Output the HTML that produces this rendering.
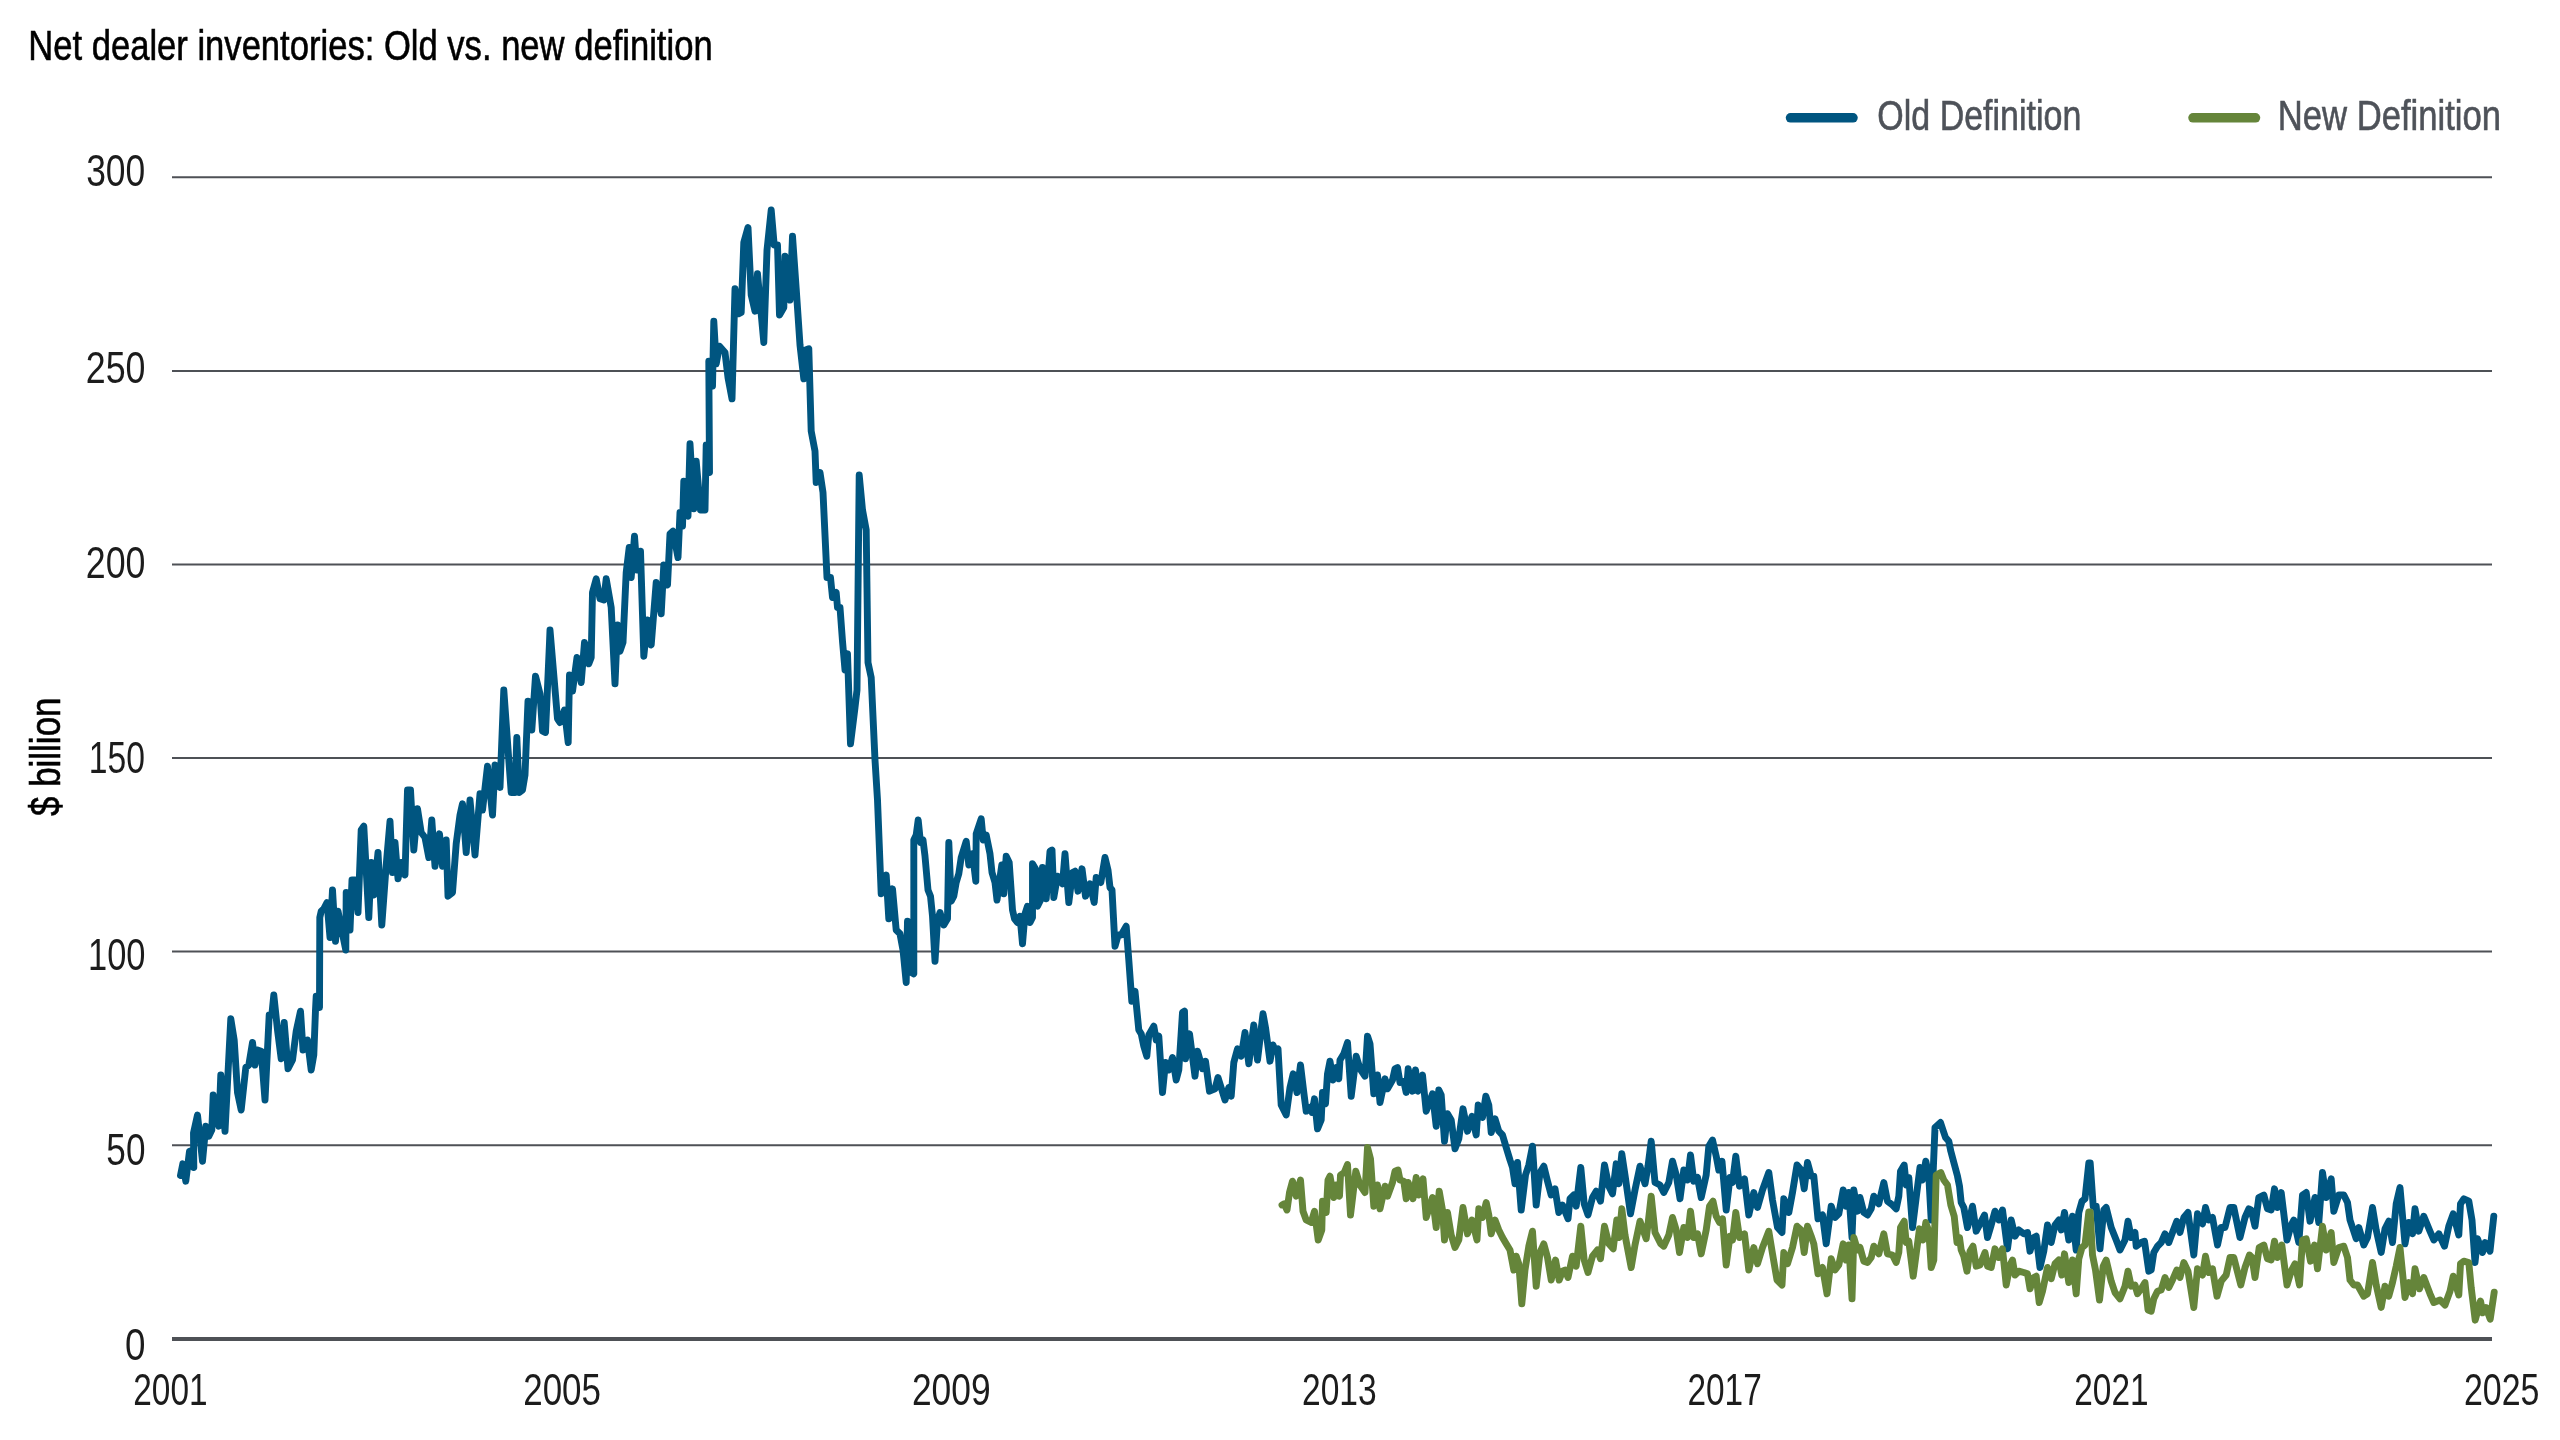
<!DOCTYPE html>
<html lang="en"><head><meta charset="utf-8"><title>Net dealer inventories: Old vs. new definition</title>
<style>html,body{margin:0;padding:0;background:#fff}body{width:2560px;height:1440px;overflow:hidden}svg{display:block}text{font-family:"Liberation Sans",sans-serif}svg{will-change:transform}</style>
</head><body>
<svg width="2560" height="1440" viewBox="0 0 2560 1440">
<rect width="2560" height="1440" fill="#ffffff"/>
<text x="28.25" y="60.0" font-size="43" fill="#000" stroke="#000" stroke-width="0.6" textLength="684.38" lengthAdjust="spacingAndGlyphs">Net dealer inventories: Old vs. new definition</text>
<line x1="172" x2="2492" y1="1145.2" y2="1145.2" stroke="#4e5156" stroke-width="2"/>
<line x1="172" x2="2492" y1="951.6" y2="951.6" stroke="#4e5156" stroke-width="2"/>
<line x1="172" x2="2492" y1="758.0" y2="758.0" stroke="#4e5156" stroke-width="2"/>
<line x1="172" x2="2492" y1="564.5" y2="564.5" stroke="#4e5156" stroke-width="2"/>
<line x1="172" x2="2492" y1="370.9" y2="370.9" stroke="#4e5156" stroke-width="2"/>
<line x1="172" x2="2492" y1="177.3" y2="177.3" stroke="#4e5156" stroke-width="2"/>
<line x1="172" x2="2492" y1="1339" y2="1339" stroke="#4e5156" stroke-width="4"/>
<text x="86.18" y="186.3" font-size="45" fill="#1c1c1c" textLength="59.10" lengthAdjust="spacingAndGlyphs">300</text>
<text x="85.75" y="382.7" font-size="45" fill="#1c1c1c" textLength="59.72" lengthAdjust="spacingAndGlyphs">250</text>
<text x="85.75" y="577.9" font-size="45" fill="#1c1c1c" textLength="59.72" lengthAdjust="spacingAndGlyphs">200</text>
<text x="88.82" y="773.0" font-size="45" fill="#1c1c1c" textLength="56.17" lengthAdjust="spacingAndGlyphs">150</text>
<text x="87.99" y="969.6" font-size="45" fill="#1c1c1c" textLength="57.52" lengthAdjust="spacingAndGlyphs">100</text>
<text x="106.37" y="1164.8" font-size="45" fill="#1c1c1c" textLength="39.06" lengthAdjust="spacingAndGlyphs">50</text>
<text x="124.95" y="1359.8" font-size="45" fill="#1c1c1c" textLength="20.45" lengthAdjust="spacingAndGlyphs">0</text>
<text x="133.32" y="1404.6" font-size="44.5" fill="#1c1c1c" textLength="74.22" lengthAdjust="spacingAndGlyphs">2001</text>
<text x="523.24" y="1404.6" font-size="44.5" fill="#1c1c1c" textLength="77.69" lengthAdjust="spacingAndGlyphs">2005</text>
<text x="911.90" y="1404.6" font-size="44.5" fill="#1c1c1c" textLength="78.68" lengthAdjust="spacingAndGlyphs">2009</text>
<text x="1302.00" y="1404.6" font-size="44.5" fill="#1c1c1c" textLength="74.68" lengthAdjust="spacingAndGlyphs">2013</text>
<text x="1687.53" y="1404.6" font-size="44.5" fill="#1c1c1c" textLength="74.21" lengthAdjust="spacingAndGlyphs">2017</text>
<text x="2074.32" y="1404.6" font-size="44.5" fill="#1c1c1c" textLength="74.22" lengthAdjust="spacingAndGlyphs">2021</text>
<text x="2463.91" y="1404.6" font-size="44.5" fill="#1c1c1c" textLength="75.52" lengthAdjust="spacingAndGlyphs">2025</text>
<text x="1877.33" y="130.0" font-size="43" fill="#4e5259" stroke="#4e5259" stroke-width="0.6" textLength="203.98" lengthAdjust="spacingAndGlyphs">Old Definition</text>
<text x="2277.78" y="130.0" font-size="43" fill="#4e5259" stroke="#4e5259" stroke-width="0.6" textLength="223.25" lengthAdjust="spacingAndGlyphs">New Definition</text>
<text transform="translate(60,816) rotate(-90)" font-size="43" fill="#000" stroke="#000" stroke-width="0.6" textLength="118.5" lengthAdjust="spacingAndGlyphs">$ billion</text>
<line x1="1790.5" x2="1853" y1="117.8" y2="117.8" stroke="#005580" stroke-width="9.5" stroke-linecap="round"/>
<line x1="2193" x2="2255.5" y1="117.8" y2="117.8" stroke="#65853a" stroke-width="9.5" stroke-linecap="round"/>
<path d="M180.5,1175.5 L182.8,1163.8 L185.8,1181.2 L189.5,1151.2 L191.8,1150.5 L193.8,1167.5 L193.5,1133.0 L197.5,1115.0 L202.5,1161.2 L205.8,1126.2 L208.8,1136.2 L211.8,1130.0 L213.2,1095.0 L218.8,1126.2 L220.8,1075.0 L225.0,1131.2 L230.8,1018.8 L234.2,1040.0 L237.5,1092.5 L241.2,1110.0 L245.8,1067.5 L248.8,1065.0 L252.5,1042.5 L255.0,1065.0 L257.5,1050.0 L261.2,1051.2 L265.0,1100.0 L269.2,1015.0 L271.8,1015.0 L273.8,995.0 L277.5,1030.0 L281.2,1058.8 L284.2,1022.5 L288.0,1068.8 L292.5,1060.0 L296.2,1031.2 L300.5,1011.2 L303.0,1050.0 L307.5,1040.0 L311.2,1070.0 L313.8,1055.0 L315.5,1010.0 L316.2,996.2 L319.5,1007.5 L319.8,917.5 L321.2,911.2 L323.8,908.8 L327.0,902.5 L330.0,937.5 L332.5,890.0 L335.5,941.2 L338.0,911.2 L341.2,927.5 L345.8,950.0 L346.2,892.5 L350.0,930.0 L352.0,880.0 L355.0,880.0 L358.0,912.5 L361.2,830.0 L363.8,826.2 L368.8,917.5 L371.2,862.5 L373.8,895.0 L378.0,852.5 L381.8,925.0 L386.2,865.0 L390.0,821.2 L392.5,872.5 L395.0,842.5 L398.0,878.8 L401.2,862.5 L405.0,875.0 L407.5,790.0 L410.5,790.0 L413.8,850.0 L417.5,808.8 L421.2,832.5 L425.0,837.5 L428.8,857.5 L431.8,820.0 L435.0,866.2 L439.5,833.8 L442.5,866.2 L446.2,840.0 L448.0,896.2 L452.5,892.5 L456.2,843.8 L460.0,815.0 L462.5,803.8 L466.2,852.5 L470.0,800.0 L475.0,855.0 L480.0,793.8 L482.5,810.0 L487.5,766.2 L492.5,815.0 L495.0,765.0 L500.0,787.5 L503.8,690.0 L508.8,760.0 L511.2,792.5 L515.0,792.5 L516.8,737.5 L519.2,792.5 L522.5,790.0 L525.0,775.0 L528.0,701.2 L531.8,730.0 L535.5,676.2 L540.0,693.8 L542.5,731.2 L545.5,732.5 L549.5,642.5 L550.0,630.0 L553.8,675.0 L557.5,718.8 L560.0,722.5 L564.5,710.0 L568.2,742.5 L569.5,675.0 L572.5,691.2 L577.0,657.5 L581.2,682.5 L584.5,642.5 L588.8,663.8 L591.2,657.5 L592.5,592.5 L596.2,578.8 L600.0,598.8 L603.8,600.0 L606.2,578.8 L611.2,607.5 L615.0,683.8 L617.5,625.0 L620.0,651.2 L623.0,642.5 L626.2,572.5 L629.2,547.5 L631.2,577.5 L634.5,536.2 L637.0,570.0 L640.5,551.2 L643.8,656.2 L647.5,620.0 L651.2,645.0 L656.2,582.5 L661.2,613.8 L663.8,565.0 L667.5,585.0 L670.0,533.8 L673.0,531.2 L678.0,557.5 L680.0,512.5 L682.5,526.2 L683.8,481.2 L688.0,516.2 L690.0,443.8 L693.8,508.8 L696.2,461.2 L700.5,510.0 L705.0,510.0 L706.2,445.0 L709.5,472.5 L708.8,361.2 L712.5,386.2 L713.8,321.2 L716.2,363.8 L719.5,346.2 L725.0,352.5 L728.0,377.5 L732.0,398.8 L735.0,288.8 L738.8,313.8 L741.2,312.5 L743.8,242.5 L748.0,227.5 L751.2,295.0 L755.0,311.2 L757.5,273.8 L763.8,342.5 L767.0,250.0 L771.2,210.0 L774.2,245.0 L777.5,245.0 L779.5,315.0 L783.8,307.5 L785.0,256.2 L790.0,300.0 L792.5,236.2 L796.2,288.8 L800.0,345.0 L803.8,378.8 L805.5,350.0 L808.8,348.8 L811.2,431.2 L815.0,451.2 L816.2,482.5 L820.0,472.5 L823.0,492.5 L827.0,577.5 L830.5,577.5 L832.5,597.5 L836.2,592.5 L837.5,607.5 L840.0,607.5 L842.5,641.2 L845.0,670.0 L847.5,653.8 L850.5,743.8 L855.0,707.5 L857.0,690.0 L859.2,475.0 L862.5,510.0 L866.2,530.0 L868.0,662.5 L871.2,677.5 L875.0,760.0 L877.5,800.0 L881.2,893.8 L886.2,875.0 L888.8,918.8 L892.5,888.8 L896.2,930.0 L900.0,933.8 L903.0,950.0 L906.2,982.5 L907.5,921.2 L911.2,972.5 L913.8,973.8 L913.8,840.0 L916.2,835.0 L918.2,820.0 L920.5,842.5 L923.0,840.0 L925.0,856.2 L928.0,890.0 L930.5,896.2 L932.5,916.2 L935.0,961.2 L937.5,920.0 L940.0,912.5 L943.8,925.0 L947.5,918.8 L948.8,842.5 L951.2,901.2 L953.8,896.2 L956.2,882.5 L958.8,873.8 L961.2,857.5 L966.2,841.2 L968.8,865.0 L972.5,853.8 L975.8,881.2 L976.2,833.8 L981.2,818.8 L983.2,840.0 L986.2,835.0 L990.0,853.8 L992.0,872.5 L995.0,882.5 L997.0,900.0 L1000.0,877.5 L1001.8,865.0 L1003.8,893.8 L1006.2,856.2 L1009.2,862.5 L1012.5,910.0 L1014.5,918.8 L1017.5,922.5 L1020.0,916.2 L1022.5,943.8 L1025.0,913.8 L1027.5,906.2 L1030.0,922.5 L1032.5,917.5 L1032.5,863.8 L1036.2,870.0 L1037.5,906.2 L1041.2,898.8 L1042.5,867.5 L1046.2,898.8 L1050.0,851.2 L1052.0,850.0 L1053.8,897.5 L1057.5,876.2 L1062.5,883.8 L1065.0,853.8 L1068.8,902.5 L1072.5,872.5 L1075.0,871.2 L1078.0,891.2 L1082.0,868.8 L1085.5,896.2 L1090.0,883.8 L1094.2,902.5 L1096.2,877.5 L1100.8,882.5 L1105.0,857.5 L1108.0,870.0 L1110.0,887.5 L1112.0,890.0 L1115.0,946.2 L1118.2,935.0 L1121.2,935.0 L1126.2,926.2 L1128.8,960.0 L1131.8,1001.2 L1135.0,991.2 L1138.8,1030.0 L1141.2,1033.8 L1143.8,1046.2 L1146.8,1056.2 L1148.8,1035.0 L1153.8,1026.2 L1156.2,1040.0 L1158.8,1036.2 L1162.5,1092.5 L1165.5,1062.5 L1168.8,1070.0 L1172.5,1057.5 L1176.2,1080.0 L1178.8,1070.0 L1182.5,1012.5 L1184.5,1011.2 L1185.5,1058.8 L1189.5,1033.8 L1195.0,1076.2 L1197.5,1051.2 L1202.5,1068.8 L1205.5,1061.2 L1209.5,1091.2 L1215.0,1088.8 L1218.0,1077.5 L1225.0,1100.0 L1228.8,1087.5 L1231.2,1096.2 L1233.8,1062.5 L1237.5,1048.8 L1241.2,1056.2 L1245.0,1032.5 L1248.8,1063.8 L1253.8,1025.0 L1257.5,1060.0 L1263.0,1013.8 L1265.5,1027.5 L1270.0,1061.2 L1273.0,1045.0 L1275.5,1051.2 L1278.0,1048.8 L1281.2,1105.0 L1286.2,1115.0 L1290.0,1087.5 L1293.2,1073.8 L1297.0,1092.5 L1300.5,1065.0 L1303.8,1092.5 L1306.2,1111.2 L1310.0,1107.5 L1312.0,1112.5 L1314.5,1098.8 L1317.5,1128.8 L1321.2,1120.0 L1322.5,1092.5 L1325.5,1103.8 L1327.5,1073.8 L1330.0,1061.2 L1333.0,1080.0 L1336.2,1067.5 L1338.8,1078.8 L1340.0,1060.0 L1343.8,1053.8 L1347.5,1042.5 L1351.2,1096.2 L1356.2,1056.2 L1360.0,1068.8 L1365.0,1076.2 L1367.5,1036.2 L1370.0,1043.8 L1373.8,1093.8 L1377.5,1075.0 L1380.0,1102.5 L1385.0,1078.8 L1387.5,1088.8 L1392.5,1080.0 L1395.0,1068.8 L1397.5,1067.5 L1400.0,1082.5 L1403.8,1081.2 L1406.2,1092.5 L1408.2,1068.8 L1412.5,1091.2 L1415.5,1070.0 L1418.0,1091.2 L1422.5,1075.0 L1426.2,1111.2 L1432.5,1093.8 L1436.2,1126.2 L1438.8,1090.0 L1441.2,1095.0 L1444.5,1141.2 L1447.5,1113.8 L1451.2,1120.0 L1455.0,1148.8 L1458.8,1138.8 L1463.0,1108.8 L1467.5,1131.2 L1472.0,1116.2 L1476.2,1135.0 L1478.2,1105.0 L1482.5,1117.5 L1485.8,1096.2 L1488.8,1105.0 L1491.2,1132.5 L1495.0,1118.8 L1498.8,1131.2 L1502.5,1135.0 L1506.2,1147.5 L1510.0,1160.0 L1512.5,1167.5 L1515.0,1183.8 L1517.5,1162.5 L1521.2,1210.0 L1525.5,1175.0 L1528.8,1165.0 L1532.5,1146.2 L1536.2,1205.0 L1540.0,1172.5 L1543.8,1166.2 L1547.5,1181.2 L1551.2,1195.0 L1555.0,1188.8 L1558.8,1212.5 L1562.5,1205.0 L1568.0,1218.8 L1570.0,1198.8 L1573.8,1195.0 L1576.2,1206.2 L1580.8,1167.5 L1584.2,1203.8 L1588.0,1215.0 L1592.5,1197.5 L1596.2,1191.2 L1600.5,1201.2 L1604.5,1165.0 L1608.8,1186.2 L1612.5,1193.8 L1616.2,1163.8 L1618.8,1183.8 L1621.8,1153.8 L1625.0,1175.0 L1630.5,1213.8 L1635.0,1190.0 L1640.0,1166.2 L1645.0,1183.8 L1648.0,1166.2 L1651.2,1141.2 L1655.0,1182.5 L1660.0,1185.0 L1663.8,1192.5 L1668.8,1182.5 L1672.5,1161.2 L1676.2,1175.0 L1680.0,1198.8 L1683.8,1170.0 L1687.5,1180.0 L1690.5,1155.0 L1693.8,1181.2 L1697.5,1177.5 L1701.2,1197.5 L1706.2,1175.0 L1708.8,1146.2 L1712.5,1140.0 L1716.2,1156.2 L1718.8,1170.0 L1722.0,1161.2 L1726.2,1210.0 L1730.0,1177.5 L1732.5,1182.5 L1735.8,1156.2 L1739.5,1186.2 L1744.5,1178.8 L1748.8,1215.0 L1753.8,1192.5 L1757.5,1207.5 L1762.5,1190.0 L1768.8,1172.5 L1772.5,1200.0 L1777.5,1227.5 L1782.0,1232.5 L1783.8,1198.8 L1788.8,1212.5 L1792.5,1192.5 L1797.0,1165.0 L1801.2,1170.0 L1804.2,1188.8 L1807.5,1162.5 L1811.2,1176.2 L1813.8,1176.2 L1818.0,1218.8 L1822.5,1215.0 L1826.2,1243.8 L1831.2,1206.2 L1835.0,1217.5 L1838.8,1213.8 L1843.2,1190.0 L1846.2,1206.2 L1848.8,1192.5 L1852.0,1237.5 L1853.8,1190.0 L1857.5,1211.2 L1860.0,1197.5 L1863.8,1212.5 L1867.5,1215.0 L1871.2,1208.8 L1873.8,1196.2 L1878.8,1203.8 L1883.8,1182.5 L1887.5,1201.2 L1892.5,1205.0 L1896.2,1208.8 L1898.8,1196.2 L1900.5,1171.2 L1904.2,1165.0 L1906.2,1185.0 L1908.8,1177.5 L1912.5,1227.5 L1916.2,1197.5 L1920.0,1167.5 L1922.5,1180.0 L1925.8,1161.2 L1928.8,1176.2 L1931.2,1220.0 L1935.0,1127.5 L1940.5,1122.5 L1943.8,1132.5 L1945.5,1137.5 L1948.8,1141.2 L1950.8,1151.2 L1954.2,1163.8 L1957.5,1176.2 L1959.5,1186.2 L1961.2,1202.5 L1963.8,1207.5 L1967.5,1227.5 L1970.0,1217.5 L1972.5,1206.2 L1976.2,1231.2 L1980.0,1223.8 L1984.5,1215.0 L1987.5,1237.5 L1991.2,1225.0 L1995.0,1211.2 L1998.8,1220.0 L2002.5,1210.0 L2007.5,1248.8 L2011.2,1220.0 L2015.0,1236.2 L2018.8,1230.0 L2023.8,1233.8 L2027.5,1232.5 L2030.0,1251.2 L2033.8,1237.5 L2036.2,1236.2 L2040.0,1267.5 L2043.8,1251.2 L2047.5,1225.0 L2051.2,1242.5 L2055.0,1225.0 L2058.8,1220.0 L2061.2,1230.0 L2064.5,1212.5 L2068.8,1240.0 L2072.5,1216.2 L2076.2,1250.0 L2078.8,1212.5 L2082.0,1201.2 L2085.0,1198.8 L2088.8,1163.0 L2090.2,1163.0 L2093.2,1206.2 L2096.2,1206.2 L2100.0,1248.8 L2103.8,1210.0 L2106.2,1207.5 L2111.2,1227.5 L2116.2,1240.0 L2120.0,1250.0 L2125.0,1240.0 L2128.0,1221.2 L2131.2,1237.5 L2135.0,1232.5 L2136.2,1246.2 L2141.2,1242.5 L2144.5,1241.2 L2148.8,1271.2 L2151.2,1270.0 L2153.8,1252.5 L2157.5,1246.2 L2161.2,1242.5 L2165.0,1233.8 L2168.8,1242.5 L2172.5,1232.5 L2176.8,1221.2 L2180.0,1232.5 L2183.8,1217.5 L2188.0,1212.5 L2193.8,1255.0 L2197.5,1213.8 L2202.5,1223.8 L2205.5,1207.5 L2208.8,1220.0 L2212.5,1217.5 L2217.5,1245.0 L2221.2,1227.5 L2225.0,1227.5 L2230.0,1207.5 L2233.8,1207.5 L2240.0,1237.5 L2245.0,1217.5 L2248.8,1208.8 L2251.2,1210.0 L2255.0,1226.2 L2258.8,1197.5 L2263.8,1195.0 L2267.5,1208.8 L2271.2,1210.0 L2274.5,1188.8 L2277.5,1207.5 L2281.2,1192.5 L2287.0,1240.0 L2291.2,1225.0 L2293.8,1220.0 L2298.8,1242.5 L2302.5,1195.0 L2306.2,1192.5 L2310.0,1221.2 L2315.0,1197.5 L2318.8,1222.5 L2322.5,1172.5 L2326.2,1197.5 L2331.2,1178.8 L2333.8,1211.2 L2338.8,1195.0 L2343.8,1195.0 L2347.5,1202.5 L2350.0,1220.0 L2352.5,1227.5 L2356.2,1238.8 L2358.8,1227.5 L2363.8,1245.0 L2367.5,1237.5 L2372.5,1207.5 L2376.2,1230.0 L2381.2,1252.5 L2385.0,1228.8 L2388.8,1221.2 L2392.5,1242.5 L2396.2,1203.8 L2400.0,1187.5 L2405.0,1243.8 L2408.8,1222.5 L2412.5,1233.8 L2415.0,1208.8 L2418.8,1231.2 L2423.8,1216.2 L2430.0,1231.2 L2433.8,1240.0 L2438.8,1233.8 L2444.5,1246.2 L2448.8,1226.2 L2453.2,1213.8 L2458.8,1235.0 L2460.5,1203.8 L2463.8,1198.8 L2468.8,1201.2 L2472.0,1220.0 L2475.0,1262.5 L2477.5,1238.8 L2482.5,1252.5 L2485.0,1242.5 L2490.0,1251.2 L2493.8,1216.2" fill="none" stroke="#005580" stroke-width="6.9" stroke-linejoin="round" stroke-linecap="round"/>
<path d="M1282.0,1205.0 L1284.2,1203.8 L1287.0,1210.0 L1289.5,1192.5 L1292.5,1181.2 L1296.2,1196.2 L1300.5,1180.0 L1303.0,1211.2 L1306.2,1220.0 L1311.2,1222.5 L1314.5,1211.2 L1318.2,1240.0 L1321.8,1230.0 L1322.5,1201.2 L1326.2,1212.5 L1328.0,1180.0 L1330.0,1176.2 L1333.8,1197.5 L1336.2,1185.0 L1339.5,1196.2 L1340.5,1175.0 L1344.2,1172.5 L1347.5,1164.5 L1350.5,1215.0 L1355.8,1171.2 L1360.0,1185.0 L1365.0,1192.5 L1367.5,1147.5 L1370.5,1158.8 L1373.8,1206.2 L1377.5,1185.0 L1380.0,1208.8 L1385.0,1186.2 L1387.5,1196.2 L1392.5,1182.5 L1395.0,1171.2 L1398.0,1170.0 L1400.0,1180.0 L1403.8,1181.2 L1406.2,1198.8 L1408.2,1182.5 L1413.0,1198.8 L1416.2,1177.5 L1418.8,1195.0 L1423.0,1178.8 L1426.2,1217.5 L1432.5,1197.5 L1436.2,1227.5 L1439.2,1191.2 L1442.5,1210.0 L1444.5,1240.0 L1447.5,1212.5 L1451.2,1235.0 L1455.0,1247.5 L1458.8,1240.0 L1463.0,1207.5 L1467.5,1233.8 L1472.0,1220.0 L1477.0,1240.0 L1478.8,1208.8 L1482.5,1217.5 L1486.2,1202.5 L1488.8,1215.0 L1491.2,1233.8 L1495.0,1220.0 L1498.8,1230.0 L1502.5,1237.5 L1506.2,1243.8 L1510.0,1250.0 L1513.8,1270.0 L1516.2,1256.2 L1518.8,1263.8 L1521.8,1303.8 L1525.0,1270.0 L1528.8,1246.2 L1532.5,1231.2 L1536.2,1286.2 L1540.0,1252.5 L1543.8,1243.8 L1547.5,1257.5 L1551.2,1280.0 L1555.5,1260.0 L1559.2,1280.0 L1562.5,1271.2 L1565.0,1270.0 L1568.0,1277.5 L1572.5,1256.2 L1576.2,1266.2 L1580.8,1226.2 L1584.2,1260.0 L1588.0,1272.5 L1592.5,1256.2 L1597.5,1250.0 L1600.5,1258.8 L1604.5,1226.2 L1608.8,1243.8 L1613.2,1248.8 L1616.8,1220.0 L1619.2,1237.5 L1621.8,1208.8 L1625.0,1235.0 L1631.2,1267.5 L1635.0,1245.0 L1640.0,1221.2 L1646.2,1238.8 L1648.2,1222.5 L1651.2,1196.2 L1655.0,1232.5 L1660.8,1243.8 L1663.8,1246.2 L1668.8,1235.0 L1672.5,1217.5 L1676.2,1230.0 L1679.5,1252.5 L1683.8,1227.5 L1687.5,1237.5 L1690.5,1211.2 L1693.8,1237.5 L1697.5,1233.8 L1701.2,1253.8 L1706.2,1230.0 L1709.5,1206.2 L1713.0,1201.2 L1716.2,1216.2 L1719.5,1222.5 L1722.5,1218.8 L1726.2,1265.0 L1730.0,1236.2 L1732.5,1240.0 L1735.8,1212.5 L1739.5,1237.5 L1744.5,1233.8 L1748.8,1270.0 L1753.8,1247.5 L1757.5,1263.8 L1762.5,1247.5 L1768.8,1231.2 L1772.5,1253.8 L1777.0,1280.0 L1782.0,1285.0 L1783.8,1252.5 L1787.5,1263.8 L1792.5,1247.5 L1797.0,1226.2 L1801.2,1230.0 L1804.2,1252.5 L1807.5,1226.2 L1811.2,1236.2 L1813.8,1243.8 L1818.0,1273.8 L1822.5,1267.5 L1827.0,1293.8 L1831.2,1258.8 L1835.0,1270.0 L1838.8,1265.0 L1843.2,1243.8 L1846.2,1260.0 L1848.8,1245.0 L1852.0,1298.8 L1853.8,1237.5 L1857.5,1250.0 L1860.0,1247.5 L1863.8,1261.2 L1867.5,1262.5 L1871.2,1257.5 L1873.8,1246.2 L1878.8,1253.8 L1883.8,1233.8 L1887.5,1253.8 L1892.5,1255.0 L1896.2,1262.5 L1898.8,1252.5 L1900.5,1227.5 L1904.2,1221.2 L1906.2,1242.5 L1908.8,1241.2 L1913.2,1276.2 L1916.2,1253.8 L1919.5,1228.8 L1923.0,1240.0 L1925.8,1222.5 L1928.8,1231.2 L1931.2,1267.5 L1933.8,1260.0 L1936.2,1175.0 L1940.8,1172.5 L1943.8,1180.0 L1947.5,1185.0 L1950.8,1205.0 L1954.2,1216.2 L1957.0,1242.5 L1959.5,1237.5 L1961.2,1250.0 L1963.8,1256.2 L1967.0,1271.2 L1970.0,1251.2 L1973.0,1246.2 L1976.2,1266.2 L1980.0,1265.0 L1985.0,1252.5 L1987.5,1266.2 L1991.2,1267.5 L1995.0,1248.8 L1998.8,1257.5 L2002.5,1248.8 L2006.2,1285.0 L2010.0,1265.0 L2012.5,1260.0 L2015.0,1275.0 L2018.8,1271.2 L2023.8,1272.5 L2027.5,1273.8 L2030.0,1288.8 L2033.8,1277.5 L2036.2,1276.2 L2039.2,1302.5 L2042.5,1291.2 L2047.5,1267.5 L2051.2,1278.8 L2055.0,1263.8 L2058.8,1260.0 L2061.8,1275.0 L2064.5,1253.8 L2068.8,1282.5 L2072.5,1260.0 L2076.2,1293.8 L2078.8,1258.8 L2082.0,1247.5 L2085.0,1245.0 L2088.8,1212.0 L2090.2,1212.0 L2092.5,1255.0 L2095.5,1270.0 L2099.5,1300.0 L2103.2,1266.2 L2106.2,1260.0 L2111.2,1281.2 L2115.0,1292.5 L2120.0,1298.8 L2125.0,1286.2 L2128.0,1271.2 L2131.2,1286.2 L2135.0,1285.0 L2137.5,1293.8 L2141.2,1288.8 L2145.0,1282.5 L2148.0,1310.0 L2151.2,1311.2 L2153.8,1298.8 L2157.5,1291.2 L2161.2,1290.0 L2165.0,1277.5 L2168.8,1287.5 L2172.5,1280.0 L2176.8,1270.0 L2180.0,1277.5 L2183.8,1262.5 L2188.0,1271.2 L2193.8,1307.5 L2197.5,1268.8 L2202.5,1275.0 L2205.5,1256.2 L2208.8,1272.5 L2212.5,1268.8 L2217.0,1296.2 L2221.2,1281.2 L2226.2,1275.0 L2230.0,1257.5 L2233.8,1257.5 L2240.8,1285.0 L2245.0,1267.5 L2249.5,1255.0 L2252.0,1257.5 L2255.0,1277.5 L2259.2,1247.5 L2263.8,1245.0 L2267.5,1258.8 L2271.2,1260.0 L2274.5,1241.2 L2277.5,1257.5 L2281.8,1245.0 L2287.0,1285.0 L2291.2,1271.2 L2295.0,1263.8 L2299.5,1285.0 L2302.5,1240.0 L2306.2,1238.8 L2310.5,1261.2 L2314.5,1245.0 L2317.5,1268.8 L2322.5,1226.2 L2326.2,1250.0 L2331.2,1232.5 L2333.8,1262.5 L2338.8,1247.5 L2343.8,1246.2 L2347.5,1257.5 L2350.0,1280.0 L2353.8,1285.0 L2357.5,1285.0 L2363.8,1296.2 L2367.5,1293.8 L2372.5,1262.5 L2376.2,1285.0 L2381.2,1307.5 L2385.0,1286.2 L2388.8,1296.2 L2392.5,1282.5 L2396.2,1266.2 L2400.0,1247.5 L2405.0,1297.5 L2408.8,1282.5 L2412.5,1293.8 L2415.0,1268.8 L2419.5,1288.8 L2423.8,1277.5 L2430.0,1293.8 L2433.8,1302.5 L2440.0,1300.0 L2445.0,1305.0 L2450.0,1291.2 L2453.2,1276.2 L2458.8,1295.0 L2460.5,1263.8 L2463.8,1261.2 L2468.8,1262.5 L2471.2,1287.5 L2475.2,1320.2 L2480.5,1301.0 L2482.8,1312.8 L2486.0,1307.5 L2490.2,1319.2 L2494.2,1292.2" fill="none" stroke="#65853a" stroke-width="6.9" stroke-linejoin="round" stroke-linecap="round"/>
</svg></body></html>
